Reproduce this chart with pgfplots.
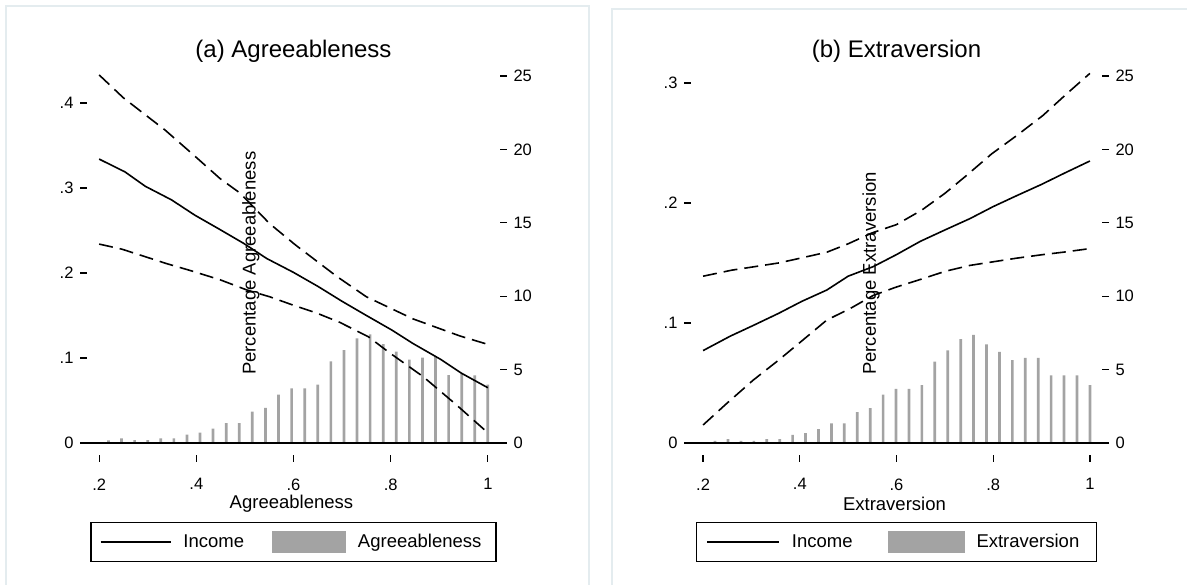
\documentclass[border=0pt]{standalone}
\usepackage{pgfplots}
\pgfplotsset{compat=1.18}
\usepackage{fontspec}
\setmainfont{Liberation Sans}
\definecolor{bargray}{HTML}{A3A3A3}
\definecolor{framec}{HTML}{E4ECEF}
\newcommand{\ticksz}{\fontsize{16.5}{19}\selectfont}
\newcommand{\labsz}{\fontsize{18.5}{22}\selectfont}
\newcommand{\titsz}{\fontsize{24}{28}\selectfont}

\pgfplotsset{
  common/.style={scale only axis, height=390pt, xmin=0.175, xmax=1.025,
    anchor=south west, axis line style={draw=none}, tick align=outside,
    major tick length=7pt, major tick style={draw=black, line width=1.2pt},
    tick label style={font=\ticksz}, clip=false},
  lineax/.style={common, axis x line*=bottom, axis y line*=left,
    xtick={0.2,0.4,0.6,0.8,1}, xticklabels={.2,.4,.6,.8,1},
    xticklabel style={yshift=-13pt}, yticklabel style={xshift=-3pt},
    every axis x label/.style={at={(axis description cs:0.495,-0.125)}, anchor=center, font=\labsz},
    every axis title/.style={at={(axis description cs:0.5,1.036)}, anchor=center, font=\titsz},
    legend columns=2,
    every axis plot/.append style={line width=1.6pt, black},
    dashline/.style={dash pattern=on 14pt off 7pt}},
  barax/.style={common, hide x axis, axis y line*=right, yticklabel style={xshift=3pt},
    ymin=-0.8174, ymax=25.75, ytick={0,5,10,15,20,25}, yticklabels={0,5,10,15,20,25}},
}

\begin{document}
\begin{tikzpicture}
\useasboundingbox (0,0) rectangle (1187pt,585pt);
\draw[framec, line width=2pt] (6pt,-10pt) rectangle (589pt,579pt);
\draw[framec, line width=2pt] (612pt,-10pt) rectangle (1200pt,576pt);

% ---------------- Panel (a) ----------------
\begin{axis}[barax, width=413pt, at={(87pt,130pt)}]
\addplot[ybar, bar width=2.7pt, fill=bargray, draw=none] coordinates {
(0.2191,0.18)(0.2460,0.32)(0.2730,0.20)(0.2999,0.20)(0.3268,0.32)(0.3538,0.32)
(0.3807,0.57)(0.4076,0.70)(0.4345,0.98)(0.4615,1.36)(0.4884,1.36)(0.5153,2.13)
(0.5423,2.40)(0.5692,3.30)(0.5961,3.72)(0.6231,3.72)(0.6500,3.97)(0.6769,5.56)
(0.7038,6.33)(0.7308,7.13)(0.7577,7.40)(0.7846,6.74)(0.8116,6.22)(0.8385,5.68)
(0.8654,5.81)(0.8924,5.86)(0.9193,4.63)(0.9462,4.72)(0.9731,4.60)(1.0000,3.97)};
\node[rotate=90, anchor=west, inner sep=0pt, font=\labsz] at (axis description cs:0.397,0.205) {Percentage Agreeableness};
\end{axis}

\begin{axis}[lineax, width=413pt, at={(87pt,130pt)},
  ymin=-0.01412, ymax=0.4447, ytick={0,0.1,0.2,0.3,0.4}, yticklabels={0,.1,.2,.3,.4},
  xlabel={Agreeableness}, title={(a) Agreeableness},
  legend style={at={(0.5,0)}, anchor=north, yshift=-67pt, draw=black, line width=1.2pt,
    inner xsep=9pt, inner ysep=8pt, font=\labsz, column sep=0pt,
    /tikz/every odd column/.append style={column sep=12pt},
    /tikz/every even column/.append style={column sep=10pt},
    nodes={inner sep=0pt}}]
\addplot[forget plot, line width=1.8pt] coordinates {(0.175,0) (1.025,0)};
\addplot[forget plot] coordinates {
(0.200,0.334)(0.253,0.319)(0.295,0.302)(0.349,0.286)(0.397,0.268)(0.449,0.251)
(0.497,0.235)(0.545,0.217)(0.599,0.201)(0.651,0.184)(0.699,0.167)(0.750,0.150)
(0.802,0.133)(0.846,0.117)(0.904,0.098)(0.946,0.082)(1.000,0.065)};
\addplot[forget plot, dashline] coordinates {
(0.200,0.433)(0.250,0.406)(0.336,0.368)(0.394,0.339)(0.449,0.311)(0.490,0.294)
(0.551,0.258)(0.604,0.233)(0.689,0.196)(0.750,0.172)(0.846,0.146)(0.942,0.126)(1.000,0.116)};
\addplot[forget plot, dashline] coordinates {
(0.200,0.234)(0.247,0.228)(0.339,0.211)(0.387,0.203)(0.449,0.192)(0.504,0.180)
(0.551,0.172)(0.600,0.162)(0.647,0.153)(0.695,0.142)(0.754,0.125)(0.798,0.106)
(0.867,0.078)(0.935,0.045)(1.000,0.012)};
\addlegendimage{legend image code/.code={\draw[black, line width=1.4pt] (0pt,0pt) -- (70pt,0pt);}}
\addlegendentry{\makebox[79pt][l]{Income}}
\addlegendimage{legend image code/.code={\fill[bargray] (0pt,-10.5pt) rectangle (72pt,10.5pt);}}
\addlegendentry{\makebox[129pt][l]{Agreeableness}}
\end{axis}

% ---------------- Panel (b) ----------------
\begin{axis}[barax, width=411pt, at={(691pt,130pt)}]
\addplot[ybar, bar width=2.7pt, fill=bargray, draw=none] coordinates {
(0.2248,0.14)(0.2515,0.27)(0.2783,0.14)(0.3050,0.14)(0.3317,0.27)(0.3585,0.27)
(0.3852,0.55)(0.4119,0.68)(0.4386,0.95)(0.4654,1.34)(0.4921,1.34)(0.5188,2.11)
(0.5456,2.38)(0.5723,3.29)(0.5990,3.68)(0.6258,3.68)(0.6525,3.95)(0.6792,5.54)
(0.7059,6.31)(0.7327,7.08)(0.7594,7.36)(0.7861,6.72)(0.8129,6.20)(0.8396,5.65)
(0.8663,5.79)(0.8931,5.79)(0.9198,4.61)(0.9465,4.61)(0.9733,4.61)(1.0000,3.95)};
\node[rotate=90, anchor=west, inner sep=0pt, font=\labsz] at (axis description cs:0.438,0.205) {Percentage Extraversion};
\end{axis}

\begin{axis}[lineax, width=411pt, at={(691pt,130pt)},
  ymin=-0.01, ymax=0.315, ytick={0,0.1,0.2,0.3}, yticklabels={0,.1,.2,.3},
  xlabel={Extraversion}, title={(b) Extraversion},
  legend style={at={(0.5,0)}, anchor=north, yshift=-67pt, draw=black, line width=1.2pt,
    inner xsep=10pt, inner ysep=8pt, font=\labsz, column sep=0pt,
    /tikz/every odd column/.append style={column sep=12pt},
    /tikz/every even column/.append style={column sep=10pt},
    nodes={inner sep=0pt}}]
\addplot[forget plot, line width=1.8pt] coordinates {(0.175,0) (1.025,0)};
\addplot[forget plot] coordinates {
(0.200,0.077)(0.256,0.089)(0.304,0.098)(0.356,0.108)(0.404,0.118)(0.456,0.1275)
(0.500,0.139)(0.552,0.147)(0.600,0.157)(0.649,0.168)(0.700,0.1775)(0.752,0.187)
(0.800,0.197)(0.848,0.206)(0.900,0.2155)(0.948,0.225)(1.000,0.235)};
\addplot[forget plot, dashline] coordinates {
(0.200,0.139)(0.259,0.144)(0.356,0.150)(0.401,0.154)(0.456,0.159)(0.500,0.166)
(0.549,0.175)(0.600,0.182)(0.652,0.194)(0.700,0.208)(0.745,0.223)(0.797,0.241)
(0.848,0.256)(0.903,0.273)(0.952,0.291)(1.000,0.308)};
\addplot[forget plot, dashline] coordinates {
(0.200,0.015)(0.249,0.033)(0.304,0.0525)(0.356,0.069)(0.407,0.086)(0.456,0.1025)
(0.504,0.112)(0.552,0.123)(0.600,0.130)(0.655,0.137)(0.700,0.143)(0.752,0.148)
(0.800,0.151)(0.848,0.154)(0.903,0.157)(0.945,0.159)(1.000,0.162)};
\addlegendimage{legend image code/.code={\draw[black, line width=1.4pt] (0pt,0pt) -- (72pt,0pt);}}
\addlegendentry{\makebox[86pt][l]{Income}}
\addlegendimage{legend image code/.code={\fill[bargray] (0pt,-10.5pt) rectangle (75pt,10.5pt);}}
\addlegendentry{\makebox[110pt][l]{Extraversion}}
\end{axis}
\end{tikzpicture}
\end{document}
